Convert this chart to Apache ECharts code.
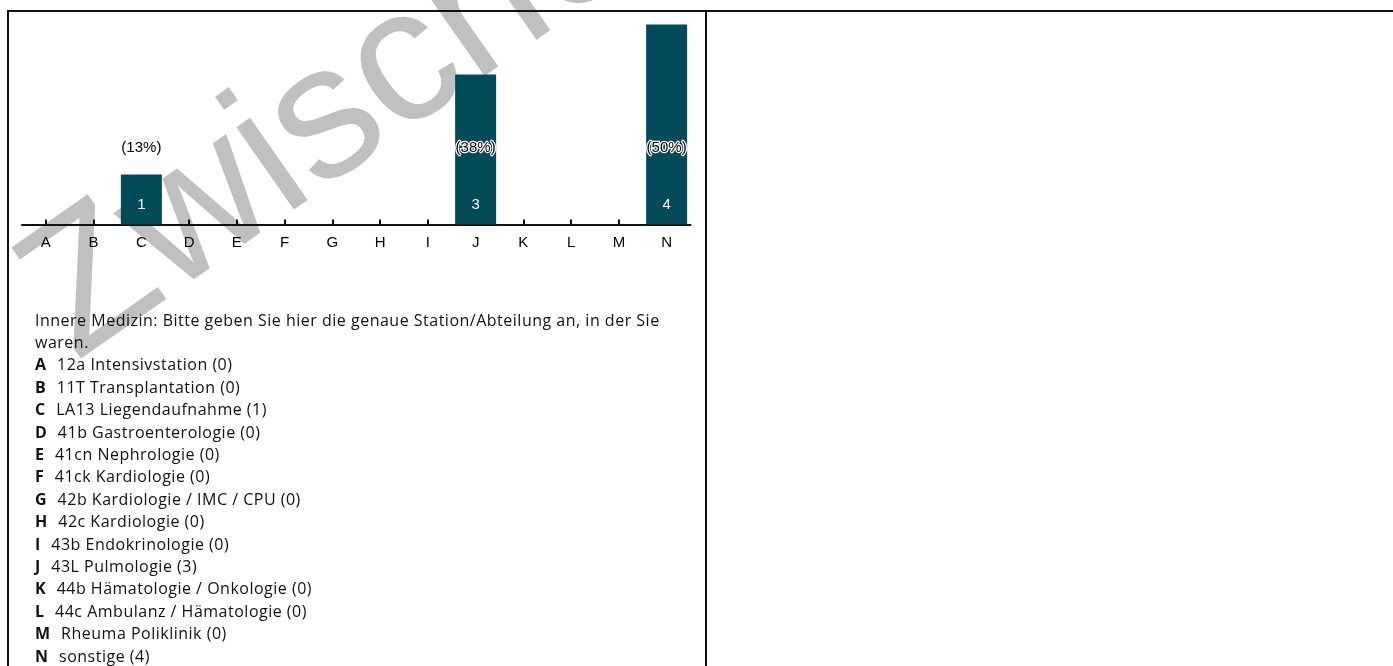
<!DOCTYPE html>
<html lang="de">
<head>
<meta charset="utf-8">
<title>Innere Medizin – Station/Abteilung</title>
<script src="https://cdn.jsdelivr.net/npm/echarts@6/dist/echarts.min.js"></script>
<style>
  html, body { margin: 0; padding: 0; background: #fff; width: 1393px; height: 666px; overflow: hidden; }
  #chart { position: absolute; left: 0; top: 0; width: 1393px; height: 666px; }
  .rule { position: absolute; background: #111; }
  #ruleTop { left: 7px; top: 10px; width: 1386px; height: 1.5px; }
  #ruleLeft { left: 7px; top: 10px; width: 1.5px; height: 656px; }
  #ruleMid { left: 705px; top: 10px; width: 1.5px; height: 656px; }
  #legend {
    position: absolute; left: 35px; top: 308.6px; width: 670px;
    font-family: "Open Sans", sans-serif; font-size: 16px; line-height: 22.4px;
    letter-spacing: 0.5px; color: #111;
  }
  #legend div { white-space: nowrap; }
  #legend b { font-weight: 700; }
  #legend span { margin-left: 10.5px; }
</style>
</head>
<body>
<div id="chart"></div>
<div class="rule" id="ruleTop"></div>
<div class="rule" id="ruleLeft"></div>
<div class="rule" id="ruleMid"></div>
<div id="legend"></div>
<script>
// Answer categories, answer counts and the station names behind each letter
const categories = ['A', 'B', 'C', 'D', 'E', 'F', 'G', 'H', 'I', 'J', 'K', 'L', 'M', 'N'];
const counts = [0, 0, 1, 0, 0, 0, 0, 0, 0, 3, 0, 0, 0, 4];
const stations = [
  '12a Intensivstation',
  '11T Transplantation',
  'LA13 Liegendaufnahme',
  '41b Gastroenterologie',
  '41cn Nephrologie',
  '41ck Kardiologie',
  '42b Kardiologie / IMC / CPU',
  '42c Kardiologie',
  '43b Endokrinologie',
  '43L Pulmologie',
  '44b Hämatologie / Onkologie',
  '44c Ambulanz / Hämatologie',
  'Rheuma Poliklinik',
  'sonstige'
];
const questionLine1 = 'Innere Medizin: Bitte geben Sie hier die genaue Station/Abteilung an, in der Sie';
const questionLine2 = 'waren.';
const watermarkText = 'Zwischenbericht';

const total = counts.reduce((a, b) => a + b, 0);
const percents = counts.map(c => Math.round(c / total * 100));

// question text and the letter key below the chart
const legend = document.getElementById('legend');
[questionLine1, questionLine2].forEach(t => {
  const d = document.createElement('div');
  d.textContent = t;
  legend.appendChild(d);
});
categories.forEach((cat, i) => {
  const d = document.createElement('div');
  const b = document.createElement('b');
  b.textContent = cat;
  const s = document.createElement('span');
  s.textContent = stations[i] + ' (' + counts[i] + ')';
  d.appendChild(b);
  d.appendChild(s);
  legend.appendChild(d);
});

const BAR_COLOR = '#034a59';
const FONT = '"Liberation Sans", Arial, sans-serif';
const PCT_RISE = 77; // percentage labels sit at a fixed height above the axis

const chart = echarts.init(document.getElementById('chart'), null, { renderer: 'canvas' });
chart.setOption({
  animation: false,
  backgroundColor: 'transparent',
  graphic: [{
    type: 'text',
    z: -100,
    x: 46,
    y: 319,
    rotation: 35 * Math.PI / 180,
    style: {
      text: watermarkText,
      fill: '#c0c0c0',
      font: '190px ' + FONT,
      align: 'left',
      verticalAlign: 'middle'
    }
  }],
  grid: { left: 22, top: 24.5, width: 668.5, height: 200 },
  xAxis: {
    type: 'category',
    data: categories,
    axisLine: { show: true, lineStyle: { color: '#111', width: 2 } },
    axisTick: { show: true, alignWithLabel: true, inside: true, length: 5, lineStyle: { color: '#111', width: 2 } },
    axisLabel: { color: '#000', fontSize: 15, fontFamily: FONT, margin: 11 },
    splitLine: { show: false }
  },
  yAxis: { type: 'value', min: 0, max: 4, show: false, splitLine: { show: false } },
  series: [
    {
      type: 'bar',
      barWidth: 41,
      itemStyle: { color: BAR_COLOR },
      data: counts.map(v => ({ value: v, label: { show: v > 0 } })),
      label: {
        position: 'insideBottom',
        distance: 12,
        color: '#fff',
        fontSize: 15,
        fontFamily: FONT
      }
    },
    {
      type: 'custom',
      z: 5,
      data: counts.map((c, i) => [i, c, percents[i]]),
      renderItem: function (params, api) {
        if (!api.value(1)) return null;
        const p = api.coord([api.value(0), 0]);
        return {
          type: 'text',
          x: p[0],
          y: p[1] - PCT_RISE,
          style: {
            text: '(' + api.value(2) + '%)',
            align: 'center',
            verticalAlign: 'middle',
            font: '15px ' + FONT,
            fill: '#000',
            stroke: '#fff',
            lineWidth: 2.5,
            strokeFirst: true
          }
        };
      }
    }
  ]
});
</script>
</body>
</html>
